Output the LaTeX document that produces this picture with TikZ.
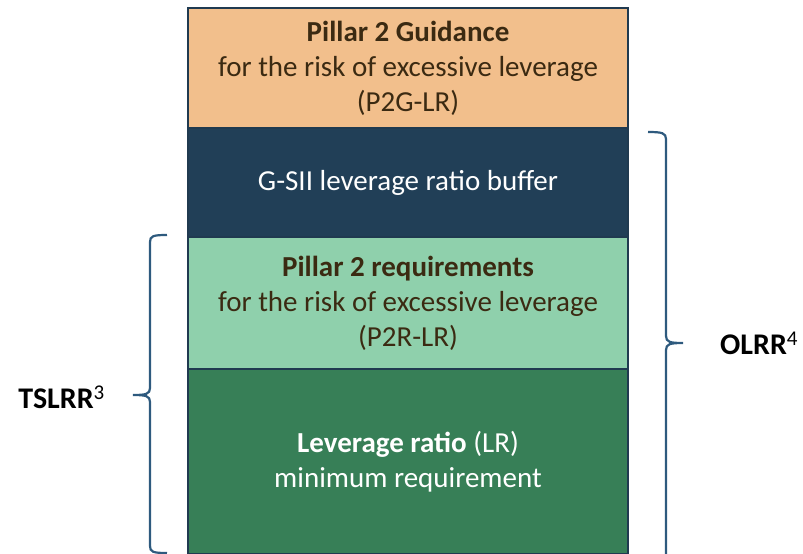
\documentclass[tikz,border=0pt]{standalone}
\usepackage{fontspec}
\setmainfont{Carlito}

\definecolor{boxline}{HTML}{203A50}
\definecolor{pgorange}{HTML}{F2BF8C}
\definecolor{gsiinavy}{HTML}{213F57}
\definecolor{pgreen}{HTML}{8FD0AC}
\definecolor{lrgreen}{HTML}{377F57}
\definecolor{bracecol}{HTML}{2E5A7E}
\definecolor{txtbrown}{HTML}{3B2A12}

\tikzset{
  layer/.style={rectangle, draw=boxline, line width=2pt, minimum width=440pt,
    align=center, inner sep=0pt, font=\fontsize{29}{35}\selectfont},
  bracket/.style={draw=bracecol, line width=2.2pt},
  reqlabel/.style={font=\fontsize{30}{34}\selectfont, inner sep=0pt}
}

\begin{document}
\begin{tikzpicture}[x=1pt, y=-1pt]
\useasboundingbox (0,0) rectangle (803,554);
% stacked requirement layers
\node[layer, fill=pgorange, text=txtbrown, minimum height=120pt] (P2G) at (408,68)
  {\textbf{Pillar 2 Guidance}\\for the risk of excessive leverage\\(P2G-LR)};
\node[layer, fill=gsiinavy, text=white, minimum height=109pt] (GSII) at (408,182.5)
  {G-SII leverage ratio buffer};
\node[layer, fill=pgreen, text=txtbrown, minimum height=132pt] (P2R) at (408,303)
  {\textbf{Pillar 2 requirements}\\for the risk of excessive leverage\\(P2R-LR)};
\node[layer, fill=lrgreen, text=white, minimum height=185pt] (LR) at (408,461.5)
  {\textbf{Leverage ratio} (LR)\\minimum requirement};
% braces
\coordinate (tslrrT) at (167,235);
\coordinate (tslrrB) at (167,553);
\coordinate (olrrT) at (648,132);
\coordinate (olrrB) at (666,557);
\draw[bracket] (tslrrT) .. controls (153,235) and (150,236) .. (150,242) -- (150,388)
  .. controls (150,394) and (146,395) .. (133,395)
  .. controls (146,395) and (150,396) .. (150,402) -- (150,546)
  .. controls (150,552) and (153,553) .. (tslrrB);
\draw[bracket] (olrrT) .. controls (662,132) and (666,133) .. (666,139) -- (666,336)
  .. controls (666,342) and (670,343) .. (683,343)
  .. controls (670,343) and (666,344) .. (666,350) -- (olrrB);
\node[reqlabel, anchor=east] (TSLRR) at (105,397) {\textbf{TSLRR}\textsuperscript{3}};
\node[reqlabel, anchor=west] (OLRR) at (720,343) {\textbf{OLRR}\textsuperscript{4}};
\end{tikzpicture}
\end{document}
